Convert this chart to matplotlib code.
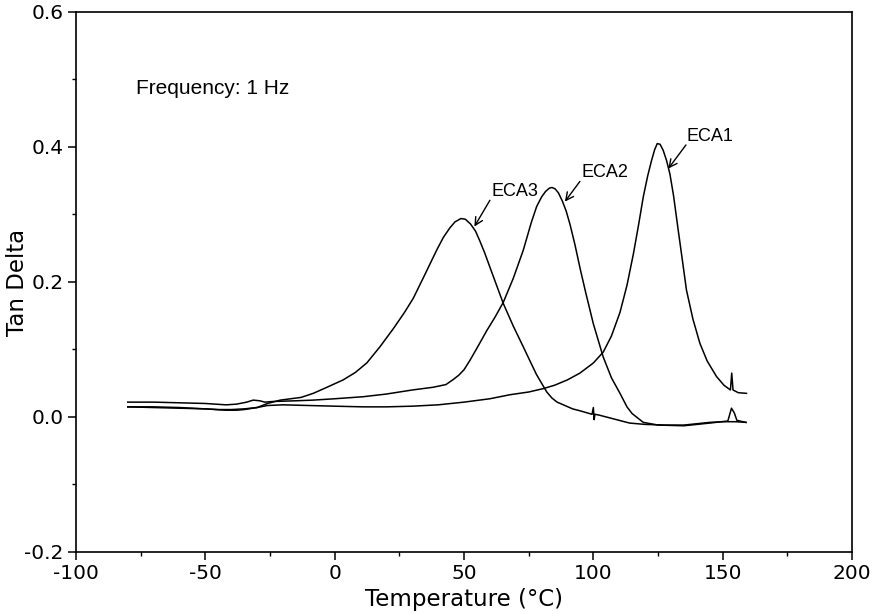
import matplotlib.pyplot as plt
from matplotlib.ticker import MultipleLocator

plt.rcParams['axes.unicode_minus'] = False

# Temperatura (°C) e tan delta
eca1_t = [-80, -70, -60, -50, -45, -40, -35, -30, -26, -20, -10, 0, 11, 20, 30, 40, 50,
          60, 67.8, 75, 80.6, 85, 90, 94.8, 100, 103.8, 107, 110.3, 113, 115.5, 117.5,
          119.3, 121, 122.5, 123.7, 124.7, 125.8, 127, 128.3, 129.6, 131, 132.8, 134.5,
          136, 138.5, 141.2, 144, 147.6, 150.5, 153, 153.5, 154, 156, 159.2]
eca1_y = [0.015, 0.015, 0.014, 0.012, 0.011, 0.011, 0.012, 0.014, 0.017, 0.018, 0.017,
          0.016, 0.015, 0.015, 0.016, 0.018, 0.022, 0.027, 0.033, 0.037, 0.042, 0.047,
          0.055, 0.065, 0.080, 0.096, 0.120, 0.155, 0.195, 0.242, 0.285, 0.326, 0.357,
          0.380, 0.396, 0.405, 0.404, 0.395, 0.380, 0.360, 0.328, 0.277, 0.230, 0.188,
          0.145, 0.109, 0.083, 0.060, 0.047, 0.040, 0.065, 0.040, 0.036, 0.035]

eca2_t = [-80, -70, -60, -50, -42, -38, -34, -31.5, -29, -27, -23.7, -15, -8.3, 0, 11,
          20, 30, 38, 43, 46, 48, 50, 52.3, 55, 58.8, 62, 65.2, 69, 72.9, 76, 78.1, 80,
          81.5, 83, 84, 85.2, 86.5, 88, 89.5, 91, 92.9, 95, 97, 100, 103.8, 107, 110.3,
          113, 115, 119.3, 125, 135, 145, 152, 153.4, 154.5, 155.5, 159]
eca2_y = [0.022, 0.022, 0.021, 0.020, 0.018, 0.019, 0.022, 0.025, 0.024, 0.022, 0.023,
          0.024, 0.025, 0.027, 0.030, 0.034, 0.040, 0.044, 0.048, 0.056, 0.062, 0.070,
          0.084, 0.102, 0.128, 0.148, 0.170, 0.205, 0.247, 0.288, 0.312, 0.326, 0.334,
          0.339, 0.340, 0.338, 0.332, 0.320, 0.305, 0.285, 0.255, 0.218, 0.185, 0.138,
          0.089, 0.058, 0.035, 0.015, 0.005, -0.008, -0.012, -0.013, -0.009, -0.006,
          0.013, 0.006, -0.005, -0.008]

eca3_t = [-80, -70, -60, -50, -42, -38, -35, -30, -26, -21, -13, -8.3, -3, 3.3, 8, 12.4,
          17.5, 22.7, 27, 30.4, 35, 39.4, 42, 44.5, 46.5, 48.8, 50.5, 52.5, 54.5, 56.2,
          58, 60, 62.5, 65.2, 69, 72.9, 76, 78, 80.6, 82, 84, 86, 88.4, 92, 95, 99.5,
          100, 100.3, 100.6, 102, 105, 110, 114, 120, 128, 135, 140, 145, 150, 155, 159]
eca3_y = [0.015, 0.014, 0.013, 0.012, 0.010, 0.010, 0.011, 0.014, 0.020, 0.025, 0.029,
          0.035, 0.044, 0.055, 0.066, 0.080, 0.104, 0.131, 0.155, 0.176, 0.212, 0.247,
          0.266, 0.280, 0.289, 0.294, 0.293, 0.286, 0.275, 0.260, 0.243, 0.222, 0.196,
          0.168, 0.135, 0.104, 0.079, 0.063, 0.046, 0.037, 0.028, 0.022, 0.018, 0.012,
          0.009, 0.004, 0.014, -0.004, 0.004, 0.003, 0.000, -0.005, -0.009, -0.011,
          -0.012, -0.012, -0.010, -0.008, -0.007, -0.007, -0.008]

fig = plt.figure(figsize=(8.77, 6.14), dpi=100)
ax = fig.add_axes([0.0867, 0.101, 0.8848, 0.8795])

for t, y in [(eca1_t, eca1_y), (eca2_t, eca2_y), (eca3_t, eca3_y)]:
    ax.plot(t, y, color='black', linewidth=1.1)

ax.set_xlim(-100, 200)
ax.set_ylim(-0.2, 0.6)
ax.xaxis.set_major_locator(MultipleLocator(50))
ax.xaxis.set_minor_locator(MultipleLocator(25))
ax.yaxis.set_major_locator(MultipleLocator(0.2))
ax.yaxis.set_minor_locator(MultipleLocator(0.1))
ax.yaxis.set_major_formatter(plt.FormatStrFormatter('%.1f'))
ax.tick_params(which='major', length=6, width=1.1, labelsize=14.5, pad=3)
ax.tick_params(which='minor', length=3, width=1.0)
for s in ax.spines.values():
    s.set_linewidth(1.2)

ax.set_xlabel('Temperature (°C)', fontsize=16.5, labelpad=3)
ax.set_ylabel('Tan Delta', fontsize=16.5)
ax.yaxis.set_label_coords(-0.061, 0.5)

# Texto e setas das curvas
ax.text(-76.8, 0.487, 'Frequency: 1 Hz', fontsize=15, family='Liberation Sans', va='center')
rotulos = [('ECA1', (129.0, 0.368), (135.8, 0.403), (136.0, 0.416)),
           ('ECA2', (89.0, 0.319), (94.8, 0.349), (95.3, 0.362)),
           ('ECA3', (54.0, 0.282), (60.0, 0.321), (60.5, 0.334))]
for nome, ponta, base, pos in rotulos:
    ax.annotate('', xy=ponta, xytext=base,
                arrowprops=dict(arrowstyle='->', color='black', lw=1.0,
                                shrinkA=0, shrinkB=0, mutation_scale=14))
    ax.text(pos[0], pos[1], nome, fontsize=13, family='Liberation Sans', va='center')

fig.savefig('out.png', dpi=100)
